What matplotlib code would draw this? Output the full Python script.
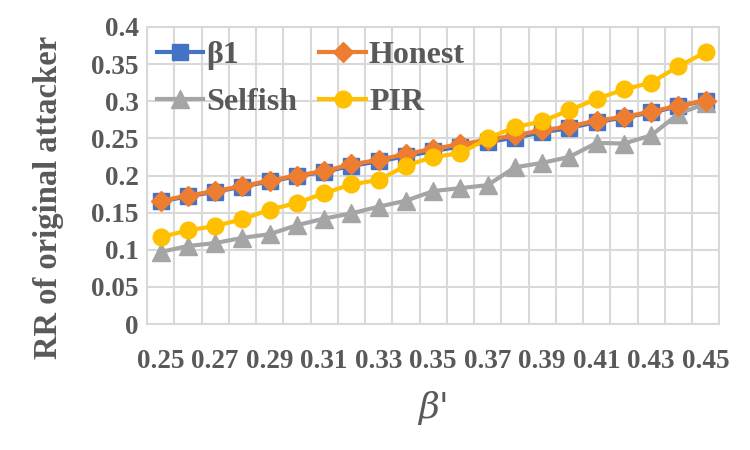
import numpy as np
import matplotlib
matplotlib.use("Agg")
import matplotlib.pyplot as plt

# beta' values and the four series
beta_prime = ["0.25", "0.26", "0.27", "0.28", "0.29", "0.30", "0.31", "0.32", "0.33", "0.34",
              "0.35", "0.36", "0.37", "0.38", "0.39", "0.40", "0.41", "0.42", "0.43", "0.44", "0.45"]
beta1 = [0.165, 0.172, 0.178, 0.185, 0.192, 0.199, 0.205, 0.213, 0.219, 0.226,
         0.233, 0.239, 0.245, 0.251, 0.258, 0.264, 0.272, 0.278, 0.285, 0.293, 0.301]
honest = [0.166, 0.173, 0.179, 0.186, 0.193, 0.200, 0.206, 0.215, 0.221, 0.229,
          0.236, 0.242, 0.248, 0.254, 0.261, 0.266, 0.274, 0.279, 0.286, 0.294, 0.301]
selfish = [0.097, 0.105, 0.109, 0.116, 0.121, 0.133, 0.142, 0.149, 0.158, 0.166,
           0.179, 0.183, 0.187, 0.211, 0.217, 0.225, 0.244, 0.243, 0.254, 0.283, 0.297]
pir = [0.117, 0.126, 0.132, 0.141, 0.154, 0.163, 0.176, 0.188, 0.194, 0.213,
       0.225, 0.230, 0.250, 0.265, 0.273, 0.288, 0.303, 0.316, 0.325, 0.347, 0.366]

txt = "#595959"
plt.rcParams["font.family"] = ["Liberation Serif", "DejaVu Serif"]
plt.rcParams["font.weight"] = "bold"

fig = plt.figure(figsize=(7.5, 4.5), dpi=100)
ax = fig.add_axes([0.196, 0.28, 0.763, 0.66])

x = np.arange(len(beta_prime))
l1, = ax.plot(x, beta1, color="#4472C4", lw=3, marker="s", ms=11, label="β1", zorder=3)
l2, = ax.plot(x, honest, color="#ED7D31", lw=3, marker="D", ms=10, label="Honest", zorder=4)
l3, = ax.plot(x, selfish, color="#A5A5A5", lw=3, marker="^", ms=13, label="Selfish", zorder=3)
l4, = ax.plot(x, pir, color="#FFC000", lw=3, marker="o", ms=12, label="PIR", zorder=5)

ax.set_xlim(-0.5, len(beta_prime) - 0.5)
ax.set_ylim(0, 0.4)
ax.set_yticks(np.arange(0, 0.401, 0.05))
ax.set_yticklabels(["0", "0.05", "0.1", "0.15", "0.2", "0.25", "0.3", "0.35", "0.4"])
ax.set_xticks(x[::2])
ax.set_xticklabels(beta_prime[::2])
ax.set_xticks(np.arange(-0.5, len(beta_prime)), minor=True)
ax.tick_params(axis="both", which="both", length=0, labelsize=19.5, colors=txt)
ax.tick_params(axis="x", pad=18)
ax.tick_params(axis="y", pad=6)

ax.grid(True, which="minor", axis="x", color="#D9D9D9", lw=1.5)
ax.grid(True, which="major", axis="y", color="#D9D9D9", lw=1.5)
ax.set_axisbelow(True)
for s in ax.spines.values():
    s.set_color("#D9D9D9")
    s.set_linewidth(1.5)

ax.set_ylabel("RR of original attacker", fontsize=23.5, fontweight="bold", color=txt)
ax.yaxis.set_label_coords(-0.145, 0.425)
ax.set_xlabel("β'", fontsize=26, style="italic", weight="normal", color=txt, labelpad=12,
              family=["DejaVu Serif"])

# row-wise order like the reference: β1, Honest / Selfish, PIR
ax.legend([l1, l3, l2, l4], ["β1", "Selfish", "Honest", "PIR"],
          loc="upper left", ncol=2, prop={"size": 23, "weight": "bold"}, frameon=False,
          labelcolor=txt, handlelength=1.45, handletextpad=0.1, columnspacing=0.7,
          borderaxespad=0.1, borderpad=0.2, labelspacing=0.55, bbox_to_anchor=(0.0, 0.985))

fig.savefig("out.png", dpi=100)
